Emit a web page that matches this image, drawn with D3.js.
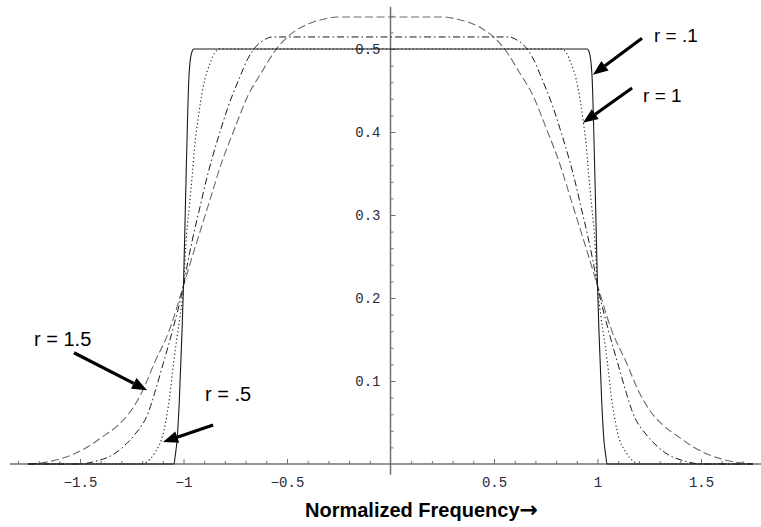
<!DOCTYPE html>
<html>
<head>
<meta charset="utf-8">
<script src="https://cdn.jsdelivr.net/npm/d3@7"></script>
<style>
  body { margin: 0; background: #fff; }
  svg { display: block; }
</style>
</head>
<body>
<div class="chart"></div>
<script>
// curve values: [normalized frequency, amplitude]
var seriesSolid = [[-1.75,0],[-1.046,0],[-1.04,0.01],[-1.031,0.029],[-1.02,0.077],[-1.007,0.161],[-1.0,0.215],[-0.99,0.32],[-0.98,0.42],[-0.975,0.46],[-0.97,0.48],[-0.96,0.496],[-0.95,0.5],
  [0.95,0.5],[0.96,0.496],[0.97,0.48],[0.975,0.46],[0.98,0.42],[0.99,0.32],[1.0,0.215],[1.007,0.161],[1.02,0.077],[1.031,0.029],[1.04,0.01],[1.046,0],[1.75,0]];

var seriesDotted = [[-1.75,0],[-1.2,0],[-1.17,0.004],[-1.14,0.013],[-1.094,0.041],[-1.067,0.081],[-1.048,0.122],[-1.03,0.155],[-1.017,0.177],[-1.0,0.215],[-0.985,0.277],[-0.972,0.31],[-0.957,0.35],[-0.945,0.385],[-0.93,0.415],[-0.906,0.453],[-0.87,0.484],[-0.85,0.495],[-0.83,0.5],
  [0.83,0.5],[0.85,0.495],[0.87,0.484],[0.906,0.453],[0.93,0.415],[0.945,0.385],[0.957,0.35],[0.972,0.31],[0.985,0.277],[1.0,0.215],[1.017,0.177],[1.03,0.155],[1.048,0.122],[1.067,0.081],[1.094,0.041],[1.14,0.013],[1.17,0.004],[1.2,0],[1.75,0]];

var seriesDashDot = [[-1.75,0],[-1.5,0],[-1.43,0.003],[-1.33,0.013],[-1.29,0.021],[-1.237,0.035],[-1.17,0.062],[-1.14,0.085],[-1.097,0.122],[-1.053,0.161],[-1.0,0.215],[-0.977,0.246],[-0.95,0.278],[-0.92,0.31],[-0.89,0.342],[-0.86,0.37],[-0.83,0.395],[-0.785,0.43],[-0.73,0.465],[-0.69,0.488],[-0.65,0.503],[-0.61,0.511],[-0.57,0.5145],
  [0.57,0.5145],[0.61,0.511],[0.65,0.503],[0.69,0.488],[0.73,0.465],[0.785,0.43],[0.83,0.395],[0.86,0.37],[0.89,0.342],[0.92,0.31],[0.95,0.278],[0.977,0.246],[1.0,0.215],[1.053,0.161],[1.097,0.122],[1.14,0.085],[1.17,0.062],[1.237,0.035],[1.29,0.021],[1.33,0.013],[1.43,0.003],[1.5,0],[1.75,0]];

var seriesDashed = [[-1.75,0],[-1.67,0.002],[-1.6,0.006],[-1.53,0.012],[-1.46,0.021],[-1.39,0.033],[-1.32,0.046],[-1.26,0.062],[-1.2,0.087],[-1.14,0.122],[-1.07,0.16],[-1.0,0.215],[-0.96,0.248],[-0.92,0.28],[-0.87,0.32],[-0.82,0.36],[-0.75,0.406],[-0.69,0.443],[-0.62,0.473],[-0.56,0.497],[-0.5,0.514],[-0.44,0.525],[-0.38,0.532],[-0.32,0.536],[-0.26,0.5386],
  [0.26,0.5386],[0.32,0.536],[0.38,0.532],[0.44,0.525],[0.5,0.514],[0.56,0.497],[0.62,0.473],[0.69,0.443],[0.75,0.406],[0.82,0.36],[0.87,0.32],[0.92,0.28],[0.96,0.248],[1.0,0.215],[1.07,0.16],[1.14,0.122],[1.2,0.087],[1.26,0.062],[1.32,0.046],[1.39,0.033],[1.46,0.021],[1.53,0.012],[1.6,0.006],[1.67,0.002],[1.75,0]];

var xMajorTicks = [-1.5, -1, -0.5, 0.5, 1, 1.5];
var xTickLabels = ["\u22121.5", "\u22121", "\u22120.5", "0.5", "1", "1.5"];
var yMajorTicks = [0.1, 0.2, 0.3, 0.4, 0.5];
var yTickLabels = ["0.1", "0.2", "0.3", "0.4", "0.5"];

// callout labels with [text start], [arrow tail], [arrow tip] in data units
var calloutLabels = ["r = .1", "r = 1", "r = 1.5", "r = .5"];
var calloutText = [[1.273, 0.508], [1.22, 0.436], [-1.722, 0.142], [-0.896, 0.076]];
var calloutTail = [[1.215, 0.513], [1.167, 0.453], [-1.529, 0.134], [-0.857, 0.047]];
var calloutTip = [[0.978, 0.469], [0.930, 0.411], [-1.176, 0.089], [-1.099, 0.0265]];

var width = 761;
var height = 527;

var svg = d3.select(".chart")
  .append("svg")
  .attr("width", width)
  .attr("height", height)
  .style("font-family", "'Liberation Sans', Arial, sans-serif");

svg.append("rect").attr("width", width).attr("height", height).attr("fill", "#fff");

var xScale = d3.scaleLinear().domain([0, 1]).range([390.5, 597.5]);
var yScale = d3.scaleLinear().domain([0, 0.5]).range([464, 49]);

// minor tick values
var xMinor = d3.range(-18, 18).map(function (i) { return i / 10; }).filter(function (v) { return Math.abs(v * 2 - Math.round(v * 2)) > 1e-6; });
var yMinor = d3.range(1, 28).map(function (i) { return +(i * 0.02).toFixed(2); }).filter(function (v) { return Math.abs(v * 10 - Math.round(v * 10)) > 1e-6; });

var axisColor = "#707070";
var labelColor = "#2a2a3a";

// x axis
var gx = svg.append("g").attr("transform", "translate(0," + yScale(0) + ")");
gx.append("line")
  .attr("x1", xScale(-1.838)).attr("x2", xScale(1.79))
  .attr("stroke", axisColor).attr("stroke-width", 1.5);
gx.append("g")
  .call(d3.axisBottom(xScale).tickValues(xMinor).tickSize(-3).tickFormat(""))
  .call(function (g) { g.select(".domain").remove(); })
  .selectAll("line").attr("stroke", axisColor);
gx.append("g")
  .call(d3.axisBottom(xScale).tickValues(xMajorTicks).tickSize(-5).tickPadding(13)
    .tickFormat(function (d, i) { return xTickLabels[i]; }))
  .call(function (g) { g.select(".domain").remove(); })
  .call(function (g) {
    g.selectAll("line").attr("stroke", axisColor);
    g.selectAll("text").attr("fill", labelColor)
      .style("font-family", "'Liberation Mono', 'Courier New', monospace")
      .style("font-size", "14px");
  });

// y axis
var gy = svg.append("g").attr("transform", "translate(" + xScale(0) + ",0)");
gy.append("line")
  .attr("y1", yScale(-0.013)).attr("y2", yScale(0.551))
  .attr("stroke", axisColor).attr("stroke-width", 1.5);
gy.append("g")
  .call(d3.axisLeft(yScale).tickValues(yMinor).tickSize(-3).tickFormat(""))
  .call(function (g) { g.select(".domain").remove(); })
  .selectAll("line").attr("stroke", axisColor);
gy.append("g")
  .call(d3.axisLeft(yScale).tickValues(yMajorTicks).tickSize(-5).tickPadding(10)
    .tickFormat(function (d, i) { return yTickLabels[i]; }))
  .call(function (g) { g.select(".domain").remove(); })
  .call(function (g) {
    g.selectAll("line").attr("stroke", axisColor);
    g.selectAll("text").attr("fill", labelColor)
      .style("font-family", "'Liberation Mono', 'Courier New', monospace")
      .style("font-size", "14px");
  });

// curves
var line = d3.line()
  .x(function (d) { return xScale(d[0]); })
  .y(function (d) { return yScale(d[1]); })
  .curve(d3.curveMonotoneX);

var curves = [
  { values: seriesDashed, stroke: "#6a6a6a", dash: "8,3.5", w: 1.1 },
  { values: seriesDashDot, stroke: "#1a1a1a", dash: "7,3,1.5,3", w: 1 },
  { values: seriesDotted, stroke: "#1a1a1a", dash: "1.2,2.6", w: 1.1 },
  { values: seriesSolid, stroke: "#1a1a1a", dash: null, w: 1.1 }
];

svg.selectAll(".curve")
  .data(curves).enter()
  .append("path")
  .attr("class", "curve")
  .attr("d", function (d) { return line(d.values); })
  .attr("fill", "none")
  .attr("stroke", function (d) { return d.stroke; })
  .attr("stroke-width", function (d) { return d.w; })
  .attr("stroke-dasharray", function (d) { return d.dash; });

// callouts
calloutLabels.forEach(function (label, i) {
  var x1 = xScale(calloutTail[i][0]), y1 = yScale(calloutTail[i][1]);
  var x2 = xScale(calloutTip[i][0]), y2 = yScale(calloutTip[i][1]);
  var ang = Math.atan2(y2 - y1, x2 - x1);
  var headLen = 15, headW = 6;
  var bx = x2 - headLen * Math.cos(ang), by = y2 - headLen * Math.sin(ang);
  svg.append("line")
    .attr("x1", x1).attr("y1", y1).attr("x2", bx).attr("y2", by)
    .attr("stroke", "#000").attr("stroke-width", 3.2);
  svg.append("path")
    .attr("d", "M" + x2 + "," + y2 +
      "L" + (bx + headW * Math.sin(ang)) + "," + (by - headW * Math.cos(ang)) +
      "L" + (bx - headW * Math.sin(ang)) + "," + (by + headW * Math.cos(ang)) + "Z")
    .attr("fill", "#000");
  svg.append("text")
    .attr("x", xScale(calloutText[i][0]))
    .attr("y", yScale(calloutText[i][1]))
    .attr("fill", "#000")
    .style("font-size", i < 2 ? "19px" : "20px")
    .text(label);
});

// axis title
var title = svg.append("text")
  .attr("x", 305)
  .attr("y", 517)
  .style("font-size", "20px")
  .style("font-weight", "bold");
title.append("tspan").text("Normalized Frequency");
title.append("tspan")
  .style("font-family", "'DejaVu Sans', sans-serif")
  .style("font-size", "22px")
  .text("\u2192");
</script>
</body>
</html>
